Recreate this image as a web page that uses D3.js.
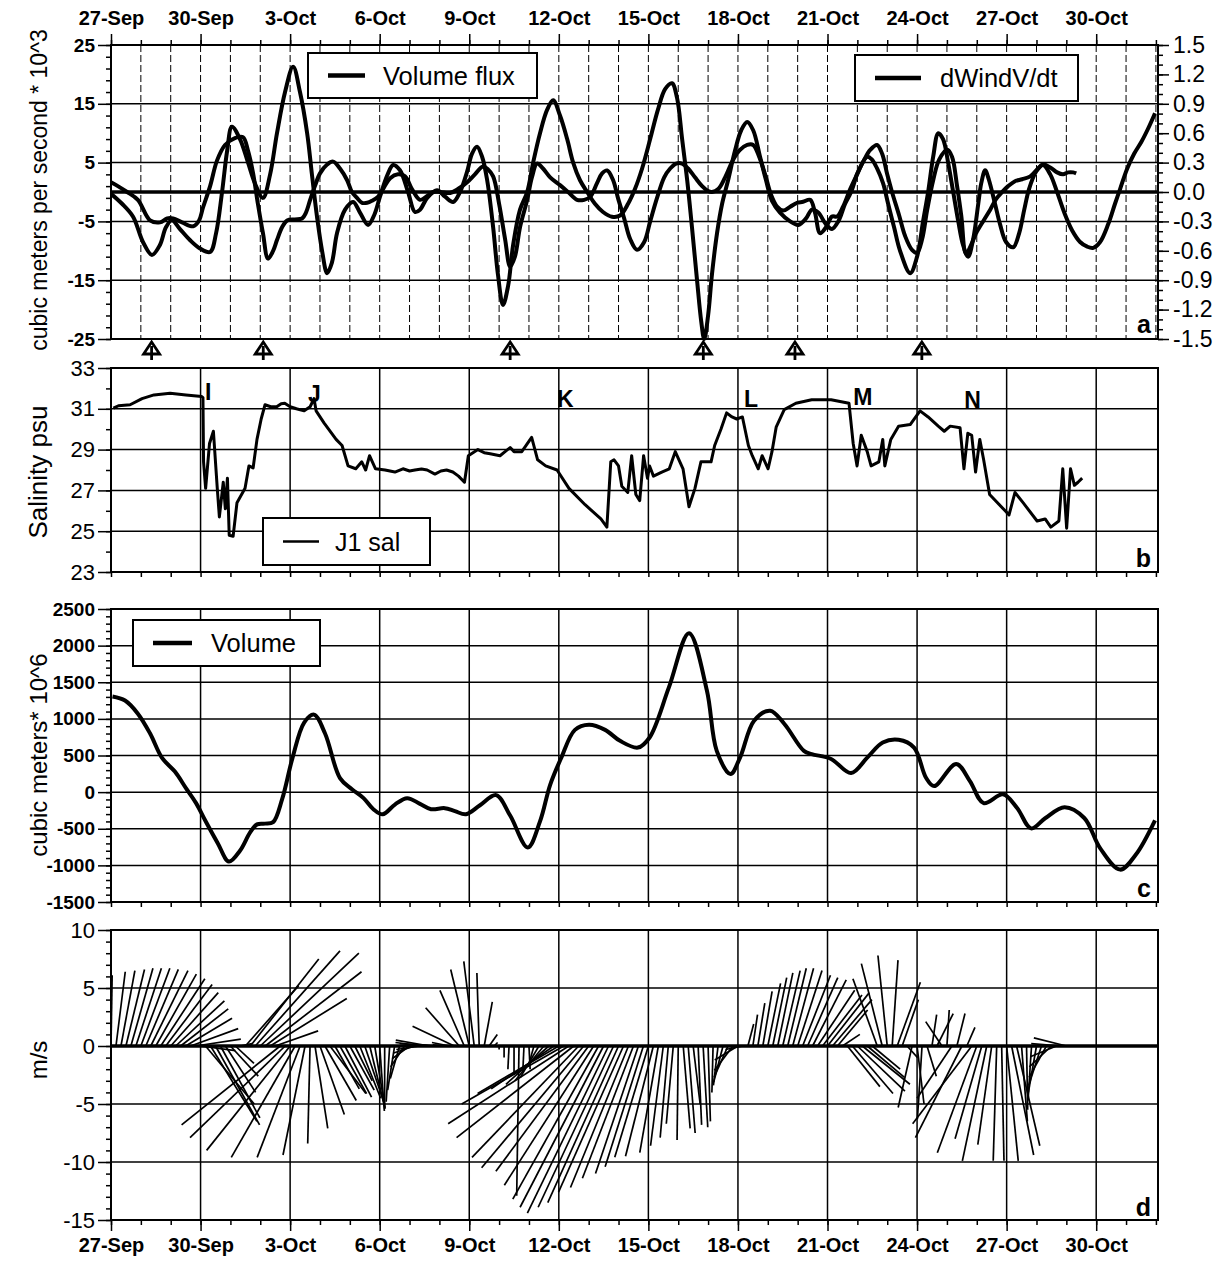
<!DOCTYPE html>
<html><head><meta charset="utf-8">
<script src="https://cdn.jsdelivr.net/npm/d3@7"></script>
<style>body{margin:0;background:#fff}svg{display:block}</style>
</head><body>
<svg id="chart" width="1232" height="1261"></svg>
<script>
// ---------------- DATA ----------------
const tickLabels = ["27-Sep","30-Sep","3-Oct","6-Oct","9-Oct","12-Oct","15-Oct","18-Oct","21-Oct","24-Oct","27-Oct","30-Oct"];
// days since 27-Sep 00:00
const volumeFlux = [[0,-0.3],[0.37,-2.0],[0.74,-4.2],[1.07,-8.5],[1.37,-10.7],[1.64,-9.0],[1.84,-6.0],[2.04,-4.8],[2.31,-6.3],[2.65,-8.2],[2.98,-9.6],[3.32,-10.2],[3.52,-7.0],[3.72,0],[3.89,7],[4.05,11.1],[4.32,9.0],[4.59,5],[4.82,1.5],[5.09,-1.0],[5.33,3],[5.56,10],[5.83,17],[6.10,21.3],[6.33,17],[6.57,10],[6.73,3],[6.90,-4.2],[7.07,-10],[7.24,-13.8],[7.40,-12],[7.57,-7],[7.84,-3],[8.11,-1.7],[8.34,-3.5],[8.61,-5.6],[8.81,-4],[9.01,-0.8],[9.25,2.8],[9.45,4.6],[9.68,3.7],[9.95,0],[10.18,-3.4],[10.35,-3.0],[10.59,-1.0],[10.92,0.3],[11.19,-0.8],[11.46,-1.7],[11.69,0],[11.93,3.5],[12.09,6.5],[12.26,7.7],[12.43,6],[12.60,2],[12.80,-6],[12.96,-14],[13.13,-19.2],[13.30,-16],[13.47,-9],[13.70,-3],[13.94,0],[14.14,5],[14.37,10],[14.61,14],[14.81,15.6],[15.04,13],[15.28,9],[15.48,5],[15.71,2],[15.95,0],[16.21,-2],[16.48,-3.4],[16.78,-4.2],[17.05,-4.0],[17.32,-2.0],[17.55,0.5],[17.79,4],[18.06,9],[18.32,14],[18.56,17.5],[18.79,18.5],[18.96,16],[19.13,9],[19.30,2],[19.46,-6],[19.63,-15],[19.77,-22],[19.87,-25],[20.00,-21],[20.13,-14],[20.30,-7],[20.47,-2],[20.67,2],[20.90,7],[21.11,10.5],[21.31,11.9],[21.51,10.5],[21.74,6],[21.94,2],[22.14,-1.5],[22.41,-3.5],[22.75,-5],[23.02,-5.6],[23.28,-4.5],[23.48,-3.0],[23.69,-3.5],[23.95,-5.5],[24.15,-6.3],[24.36,-5],[24.59,-2],[24.79,0],[25.03,3.5],[25.33,6.0],[25.49,5.5],[25.66,4],[25.86,1.5],[26.03,-2],[26.23,-6],[26.43,-10],[26.77,-13.8],[27.00,-11],[27.20,-5],[27.37,0],[27.54,6],[27.71,10],[27.87,9],[28.04,5],[28.21,0],[28.38,-5],[28.54,-9],[28.71,-11],[28.88,-8],[29.05,-2],[29.15,1.5],[29.28,3.7],[29.41,2],[29.61,-2],[29.78,-5.5],[29.98,-8.5],[30.22,-9.4],[30.42,-7],[30.59,-3],[30.75,0.5],[30.99,3.5],[31.22,4.6],[31.46,3],[31.69,0],[31.93,-3.5],[32.19,-6.5],[32.46,-8.5],[32.70,-9.3],[32.90,-9.5],[33.13,-8.5],[33.40,-5.5],[33.63,-2.0],[33.80,0.5],[34.04,4],[34.27,6.5],[34.51,8.5],[34.74,10.8],[34.97,13.4]];
const dWindVdt = [[0,0.10],[0.23,0.06],[0.54,0.00],[0.90,-0.08],[1.31,-0.29],[1.64,-0.31],[1.88,-0.27],[2.08,-0.27],[2.38,-0.31],[2.75,-0.35],[2.95,-0.29],[3.08,-0.16],[3.32,0.06],[3.55,0.32],[3.82,0.48],[4.15,0.55],[4.42,0.56],[4.59,0.42],[4.76,0.19],[4.92,-0.12],[5.09,-0.42],[5.26,-0.68],[5.43,-0.60],[5.56,-0.49],[5.73,-0.36],[5.90,-0.29],[6.16,-0.28],[6.40,-0.27],[6.53,-0.21],[6.67,-0.08],[6.83,0.06],[7.00,0.19],[7.24,0.28],[7.44,0.31],[7.67,0.24],[7.91,0.12],[8.07,0.00],[8.24,-0.06],[8.41,-0.11],[8.58,-0.11],[8.74,-0.09],[8.94,-0.05],[9.15,0.05],[9.35,0.14],[9.61,0.18],[9.85,0.16],[10.08,0.03],[10.35,-0.08],[10.59,-0.04],[10.79,0.00],[11.02,0.00],[11.36,-0.01],[11.62,0.03],[11.93,0.10],[12.19,0.18],[12.46,0.26],[12.63,0.23],[12.80,0.16],[13.00,-0.12],[13.20,-0.48],[13.37,-0.76],[13.53,-0.66],[13.70,-0.36],[13.94,-0.08],[14.10,0.15],[14.27,0.29],[14.47,0.24],[14.71,0.15],[15.04,0.07],[15.31,0.00],[15.61,-0.08],[15.85,-0.08],[16.05,-0.05],[16.28,0.09],[16.45,0.19],[16.62,0.22],[16.82,0.12],[16.98,-0.06],[17.19,-0.27],[17.39,-0.48],[17.62,-0.59],[17.86,-0.51],[18.06,-0.30],[18.29,-0.06],[18.53,0.15],[18.73,0.24],[18.93,0.29],[19.13,0.29],[19.33,0.24],[19.56,0.15],[19.80,0.06],[20.00,0.01],[20.13,0.00],[20.34,0.03],[20.57,0.15],[20.84,0.33],[21.07,0.43],[21.31,0.48],[21.51,0.48],[21.71,0.36],[21.91,0.18],[22.11,-0.03],[22.31,-0.15],[22.51,-0.19],[22.75,-0.15],[22.98,-0.11],[23.18,-0.10],[23.42,-0.08],[23.58,-0.21],[23.75,-0.42],[23.95,-0.36],[24.15,-0.25],[24.32,-0.25],[24.52,-0.15],[24.76,0.03],[24.99,0.18],[25.23,0.33],[25.43,0.43],[25.66,0.48],[25.83,0.39],[26.00,0.18],[26.16,0.00],[26.40,-0.24],[26.60,-0.45],[26.83,-0.59],[27.00,-0.62],[27.17,-0.48],[27.34,-0.18],[27.54,0.12],[27.74,0.33],[28.01,0.43],[28.17,0.36],[28.34,0.06],[28.48,-0.24],[28.64,-0.63],[28.81,-0.54],[28.98,-0.42],[29.21,-0.30],[29.45,-0.18],[29.65,-0.07],[29.85,0.00],[30.05,0.06],[30.28,0.11],[30.52,0.13],[30.79,0.16],[31.02,0.23],[31.22,0.28],[31.46,0.25],[31.69,0.20],[31.89,0.18],[32.06,0.20],[32.23,0.20],[32.33,0.19]];
const eventDays = [1.36, 5.10, 13.37, 19.84, 22.91, 27.16];
const salinityJ1 = [[0.08,31.03],[0.25,31.15],[0.64,31.2],[1.04,31.5],[1.44,31.68],[1.98,31.76],[2.51,31.68],[3.04,31.6],[3.08,31.55],[3.10,28.4],[3.17,27.1],[3.30,29.3],[3.43,29.9],[3.56,27.1],[3.63,25.7],[3.76,27.4],[3.83,26.1],[3.90,27.6],[3.96,24.8],[4.09,24.75],[4.22,26.4],[4.49,27.1],[4.62,28.2],[4.76,28.1],[4.89,29.5],[5.03,30.5],[5.16,31.2],[5.35,31.1],[5.55,31.1],[5.70,31.25],[5.82,31.27],[6.0,31.1],[6.21,31.0],[6.47,30.9],[6.67,31.1],[6.80,31.5],[6.87,30.9],[7.14,30.3],[7.54,29.5],[7.74,29.2],[7.94,28.2],[8.20,28.06],[8.40,28.4],[8.53,28.0],[8.66,28.7],[8.86,28.06],[9.18,28.0],[9.51,27.9],[9.78,28.06],[10.0,27.95],[10.18,28.0],[10.4,28.05],[10.59,28.0],[10.85,27.8],[11.05,27.95],[11.24,28.0],[11.45,27.9],[11.64,27.7],[11.84,27.4],[11.97,28.7],[12.29,29.0],[12.50,28.85],[12.70,28.8],[13.03,28.7],[13.2,28.9],[13.37,29.1],[13.5,28.9],[13.76,28.9],[14.09,29.6],[14.29,28.5],[14.56,28.2],[14.94,28.0],[15.34,27.1],[15.88,26.3],[16.41,25.6],[16.61,25.2],[16.74,28.4],[16.85,28.5],[17.00,28.2],[17.11,27.2],[17.31,26.9],[17.44,28.7],[17.58,26.8],[17.71,26.5],[17.84,28.7],[17.97,27.6],[18.04,28.2],[18.17,27.7],[18.45,27.9],[18.70,28.06],[18.90,28.9],[19.16,28.06],[19.36,26.2],[19.56,27.1],[19.76,28.4],[20.10,28.4],[20.22,29.2],[20.43,30.0],[20.62,30.8],[20.80,30.6],[20.96,30.5],[21.15,30.6],[21.35,29.2],[21.48,28.7],[21.68,28.06],[21.81,28.7],[22.01,28.06],[22.14,28.9],[22.28,30.1],[22.55,30.96],[22.94,31.27],[23.47,31.44],[24.12,31.44],[24.72,31.27],[24.86,29.3],[24.99,28.2],[25.13,29.7],[25.33,28.9],[25.46,28.2],[25.72,28.4],[25.85,29.5],[25.92,28.2],[26.12,29.5],[26.38,30.15],[26.77,30.23],[27.10,30.9],[27.37,30.6],[27.71,30.15],[27.91,29.9],[28.11,30.15],[28.44,30.07],[28.57,28.06],[28.70,29.8],[28.83,29.7],[28.96,27.9],[29.10,29.5],[29.23,28.5],[29.43,26.8],[29.95,26.0],[30.08,25.8],[30.28,26.9],[30.55,26.4],[31.02,25.5],[31.29,25.6],[31.48,25.2],[31.75,25.5],[31.88,28.06],[32.01,25.15],[32.14,28.06],[32.27,27.25],[32.39,27.4],[32.53,27.6]];
const eventLetters = [["I",3.15,31.43],["J",6.60,31.33],["K",14.94,31.09],["L",21.20,31.09],["M",24.86,31.19],["N",28.58,31.04]];
const volume = [[0.05,1305],[0.47,1250],[0.90,1071],[1.31,800],[1.71,467],[2.14,280],[2.51,55],[2.85,-150],[3.17,-398],[3.58,-700],[3.95,-948],[4.32,-800],[4.66,-550],[4.89,-440],[5.16,-430],[5.43,-410],[5.73,-100],[6.08,467],[6.47,950],[6.80,1058],[7.17,800],[7.67,192],[8.07,40],[8.46,-82],[8.78,-230],[9.10,-302],[9.51,-170],[9.92,-82],[10.35,-160],[10.72,-233],[11.18,-219],[11.52,-260],[11.89,-302],[12.36,-180],[12.90,-41],[13.37,-320],[13.96,-755],[14.37,-400],[14.71,100],[15.08,467],[15.54,850],[16.01,920],[16.55,850],[17.05,700],[17.65,608],[18.04,746],[18.69,1433],[19.36,2170],[19.96,1387],[20.29,563],[20.75,247],[21.07,471],[21.54,975],[22.08,1112],[22.55,934],[23.21,563],[23.47,520],[24.12,453],[24.79,260],[25.33,471],[25.85,677],[26.38,714],[26.90,608],[27.30,196],[27.57,82],[28.31,385],[28.77,151],[29.23,-150],[29.88,-30],[30.35,-216],[30.82,-495],[31.29,-357],[31.94,-206],[32.60,-353],[33.13,-765],[33.80,-1058],[34.33,-852],[34.97,-385]];
// wind sticks: 4-hourly from 27-Sep 00:00 (m/s)
const windStartDay = 0, windStepDay = 1/6;
const windU = [0.1,0.8,1.2,1.6,1.9,2.2,2.5,2.8,3.2,3.5,3.8,4.0,4.1,4.2,4.1,4.0,4.1,3.9,3.0,4.2,4.0,3.8,3.4,2.6,2.4,1.6,1.0,4.6,5.9,7.3,8.5,8.3,6.6,3.7,-8.5,-8.2,-7.2,-5.5,-3.7,-1.9,-0.2,1.1,2.1,2.7,3.1,2.1,2.3,2.3,2.1,1.5,1.8,1.7,1.3,0.9,0.4,0.0,-0.3,-0.6,-0.8,-1.2,-1.5,-1.8,-2.0,-2.5,-2.9,-3.0,-2.0,-1.0,-1.5,-3.6,-2.9,-2.1,-1.6,-0.9,-0.2,0.7,0.7,0.3,0.0,0.0,-0.1,0.0,-0.2,-0.1,0.1,-0.5,-1.6,-2.5,-3.7,-5.4,-7.0,-8.8,-10.4,-10.1,-9.2,-8.8,-8.0,-7.7,-7.4,-7.2,-7.0,-6.5,-6.1,-5.6,-5.0,-4.4,-3.7,-3.3,-2.9,-2.4,-1.6,-1.1,-0.7,-0.6,-0.1,0.6,0.6,0.6,0.3,0.4,0.2,-0.1,-0.4,-0.8,-1.2,-1.6,-2.0,-1.5,0.5,0.4,0.6,0.8,1.1,1.2,1.3,1.5,1.6,1.8,2.1,2.4,2.6,2.9,3.2,3.4,3.6,3.4,2.6,1.5,2.8,3.5,4.1,4.1,3.2,2.4,-2.1,-1.8,-0.8,0.5,2.0,1.4,0.9,-1.2,0.6,-0.4,0.8,0.4,1.4,-1.4,0.2,-3.0,0.7,-4.0,0.7,-5.1,-3.4,-2.3,-2.1,-1.2,-0.3,0.2,1.0,1.9,2.0,0.5,0.1,-0.3,-0.7,-1.1,-1.5,-1.9,-2.2,-2.6,-2.8];
const windV = [6.1,6.4,6.5,6.6,6.7,6.7,6.7,6.6,6.5,6.2,5.8,5.3,4.6,3.9,3.2,2.4,1.5,0.6,-0.4,-5.0,-6.5,-6.8,-6.2,-4.0,-2.6,-1.5,0.2,5.2,7.5,8.2,8.0,6.4,4.1,1.3,-6.8,-7.9,-9.0,-9.6,-9.6,-9.4,-8.4,-7.1,-5.9,-4.7,-4.1,-3.7,-4.1,-4.4,-3.8,-3.0,-4.5,-5.0,-5.3,-5.4,-5.6,-5.4,-4.8,-3.8,-2.8,-1.8,-1.1,-0.6,-0.3,0.3,0.5,0.2,0.1,0.1,0.3,1.7,3.3,4.8,6.6,7.3,6.3,3.8,1.0,0.3,-0.3,-1.0,-2.0,-2.5,-12.9,-2.2,-2.0,-1.8,-2.7,-3.0,-3.3,-3.7,-4.1,-5.0,-6.7,-7.9,-9.6,-10.5,-10.8,-12.0,-13.2,-13.9,-14.4,-13.9,-13.5,-12.6,-12.2,-11.4,-11.0,-10.4,-9.6,-9.5,-9.2,-8.6,-7.9,-6.7,-8.1,-7.1,-7.5,-5.0,-6.8,-7.0,-6.5,-4.0,-3.4,-3.1,-2.7,-2.1,-1.2,-0.3,1.9,2.7,3.7,4.7,5.4,5.9,6.3,6.5,6.7,6.7,6.5,6.1,5.9,5.7,4.8,4.4,4.6,4.0,3.1,1.0,-3.5,-4.1,-3.9,-3.3,-2.7,-2.0,5.8,7.1,7.8,7.4,5.5,4.0,-1.0,-5.3,-5.0,-6.3,-2.6,2.7,2.8,2.1,3.1,-4.5,2.8,-7.9,1.6,-6.7,-9.2,-8.0,-9.9,-8.5,-9.9,-9.9,-9.9,-9.4,-8.6,-6.5,-5.5,-4.7,-4.0,-3.4,-2.7,-1.8,-0.9,0.2,0.7];

// ---------------- DRAWING ----------------
const FONT = '"Liberation Sans", Arial, Helvetica, sans-serif';
const svg = d3.select("#chart");
const DAY = 864e5, T0 = Date.UTC(1998, 8, 27);
const toDate = d => new Date(T0 + d * DAY);
const X0 = 111, X1 = 1158;
const x = d3.scaleUtc().domain([toDate(0), toDate(35.07)]).range([X0, X1]);
const majorDates = tickLabels.map((_, i) => toDate(i * 3));
const dailyDates = d3.range(0, 36).map(toDate);

const P = {a:[45,339], b:[368,572], c:[609,902], d:[930,1220]};
const yA = d3.scaleLinear().domain([-25,25]).range([P.a[1],P.a[0]]);
const yAR = d3.scaleLinear().domain([-1.5,1.5]).range([P.a[1],P.a[0]]);
const yB = d3.scaleLinear().domain([23,33]).range([P.b[1],P.b[0]]);
const yC = d3.scaleLinear().domain([-1500,2500]).range([P.c[1],P.c[0]]);
const yD = d3.scaleLinear().domain([-15,10]).range([P.d[1],P.d[0]]);

function styleAxis(g, size, weight) {
  g.attr("font-family", null).attr("font-size", null);
  g.select(".domain").remove();
  g.selectAll(".tick line").attr("stroke", "#000").attr("stroke-width", 1.5);
  g.selectAll(".tick text").attr("fill", "#000")
    .style("font-family", FONT).style("font-size", size + "px").style("font-weight", weight);
  return g;
}
function hline(y, w) {
  svg.append("line").attr("x1", X0).attr("x2", X1).attr("y1", y).attr("y2", y)
    .attr("stroke", "#000").attr("stroke-width", w);
}
function vgrid(dates, top, bot, w, dash) {
  svg.append("g").selectAll("line").data(dates).join("line")
    .attr("x1", d => x(d)).attr("x2", d => x(d)).attr("y1", top).attr("y2", bot)
    .attr("stroke", "#000").attr("stroke-width", w).attr("stroke-dasharray", dash || null);
}
function frame(top, bot) {
  svg.append("rect").attr("x", X0).attr("y", top).attr("width", X1 - X0).attr("height", bot - top)
    .attr("fill", "none").attr("stroke", "#000").attr("stroke-width", 2);
}
function clip(id, top, bot) {
  svg.append("clipPath").attr("id", id).append("rect")
    .attr("x", X0).attr("y", top - 2).attr("width", X1 - X0).attr("height", bot - top + 4);
}
function leftAxis(scale, major, minor, size, weight) {
  styleAxis(svg.append("g").attr("transform", `translate(${X0},0)`)
    .call(d3.axisLeft(scale).tickValues(minor).tickSize(5).tickFormat("")), size, weight);
  styleAxis(svg.append("g").attr("transform", `translate(${X0},0)`)
    .call(d3.axisLeft(scale).tickValues(major).tickSize(13).tickPadding(3).tickFormat(d => String(d))), size, weight);
}
function yTitle(txt, cy, size) {
  svg.append("text").attr("transform", `translate(47,${cy}) rotate(-90)`)
    .attr("text-anchor", "middle").style("font-family", FONT).style("font-size", size + "px").text(txt);
}
function panelLetter(t, yb) {
  svg.append("text").attr("x", 1151).attr("y", yb).attr("text-anchor", "end")
    .style("font-family", FONT).style("font-size", "25px").style("font-weight", "bold").text(t);
}
function legend(x0, y0, w, h, label, lw, lineLen, textOff, size) {
  const g = svg.append("g");
  g.append("rect").attr("x", x0).attr("y", y0).attr("width", w).attr("height", h)
    .attr("fill", "#fff").attr("stroke", "#000").attr("stroke-width", 2);
  g.append("line").attr("x1", x0 + 20).attr("x2", x0 + 20 + lineLen).attr("y1", y0 + h / 2).attr("y2", y0 + h / 2)
    .attr("stroke", "#000").attr("stroke-width", lw);
  g.append("text").attr("x", x0 + textOff).attr("y", y0 + h / 2 + size * 0.36)
    .style("font-family", FONT).style("font-size", size + "px").text(label);
}
const smooth = (ys) => d3.line().x(d => x(toDate(d[0]))).y(d => ys(d[1])).curve(d3.curveCatmullRom.alpha(0.5));

// ===== Panel a =====
vgrid(dailyDates.slice(1), P.a[0], P.a[1], 1, "7,3");
[15, 5, -5, -15].forEach(v => hline(yA(v), 1.5));
hline(yA(0), 3.5);
frame(P.a[0], P.a[1]);
clip("clipA", P.a[0], P.a[1]);
svg.append("path").datum(volumeFlux).attr("clip-path", "url(#clipA)").attr("d", smooth(yA))
  .attr("fill", "none").attr("stroke", "#000").attr("stroke-width", 4).attr("stroke-linejoin", "round");
svg.append("path").datum(dWindVdt).attr("clip-path", "url(#clipA)").attr("d", smooth(yAR))
  .attr("fill", "none").attr("stroke", "#000").attr("stroke-width", 4).attr("stroke-linejoin", "round");
leftAxis(yA, [25,15,5,-5,-15,-25], d3.range(-25, 26, 2), 19, "bold");
styleAxis(svg.append("g").attr("transform", `translate(${X1},0)`)
  .call(d3.axisRight(yAR).tickValues(d3.range(-15, 16).map(k => k / 10)).tickSize(5).tickFormat("")), 22, "normal");
styleAxis(svg.append("g").attr("transform", `translate(${X1},0)`)
  .call(d3.axisRight(yAR).tickValues(d3.range(-5, 6).map(k => k * 0.3)).tickSize(11).tickPadding(4)
  .tickFormat(d => (Math.abs(d) < 1e-9 ? 0 : d).toFixed(1))), 23, "normal");
styleAxis(svg.append("g").attr("transform", `translate(0,${P.a[0]})`)
  .call(d3.axisTop(x).tickValues(dailyDates).tickSize(5).tickFormat("")), 20, "bold");
styleAxis(svg.append("g").attr("transform", `translate(0,${P.a[0]})`)
  .call(d3.axisTop(x).tickValues(majorDates).tickSize(11).tickPadding(9).tickFormat((d, i) => tickLabels[i])), 20, "bold");
// event arrows
const ev = svg.append("g");
eventDays.forEach(d => {
  const cx = x(toDate(d));
  ev.append("path").attr("d", `M${cx},342 L${cx - 8},354 L${cx + 8},354 Z`)
    .attr("fill", "#fff").attr("stroke", "#000").attr("stroke-width", 2.8).attr("stroke-linejoin", "miter");
  ev.append("line").attr("x1", cx).attr("x2", cx).attr("y1", 346).attr("y2", 360)
    .attr("stroke", "#000").attr("stroke-width", 2.8);
});
legend(308, 53, 229, 45, "Volume flux", 4.5, 37, 75, 25.5);
legend(855, 55, 223, 46, "dWindV/dt", 4.5, 46, 85, 25.5);
yTitle("cubic meters per second * 10^3", 190, 23);
panelLetter("a", 333);

// ===== Panel b =====
vgrid(majorDates.slice(1), P.b[0], P.b[1], 1.5);
[31, 29, 27, 25].forEach(v => hline(yB(v), 1.5));
frame(P.b[0], P.b[1]);
styleAxis(svg.append("g").attr("transform", `translate(0,${P.b[1]})`)
  .call(d3.axisBottom(x).tickValues(dailyDates).tickSize(5).tickFormat("")), 20, "bold");
svg.append("path").datum(salinityJ1)
  .attr("d", d3.line().x(d => x(toDate(d[0]))).y(d => yB(d[1])))
  .attr("fill", "none").attr("stroke", "#000").attr("stroke-width", 3).attr("stroke-linejoin", "round");
leftAxis(yB, [33,31,29,27,25,23], d3.range(23, 34, 1), 22, "normal");
svg.append("g").selectAll("text").data(eventLetters).join("text")
  .attr("x", d => x(toDate(d[1]))).attr("y", d => yB(d[2]))
  .style("font-family", FONT).style("font-size", "23px").style("font-weight", "bold").text(d => d[0]);
legend(263, 518, 167, 47, "J1 sal", 2.5, 36, 72, 25);
yTitle("Salinity psu", 472, 26);
panelLetter("b", 567);

// ===== Panel c =====
vgrid(majorDates.slice(1), P.c[0], P.c[1], 1.5);
[2000, 1500, 1000, 500, 0, -500, -1000].forEach(v => hline(yC(v), 1.5));
frame(P.c[0], P.c[1]);
styleAxis(svg.append("g").attr("transform", `translate(0,${P.c[1]})`)
  .call(d3.axisBottom(x).tickValues(dailyDates).tickSize(5).tickFormat("")), 20, "bold");
clip("clipC", P.c[0], P.c[1]);
svg.append("path").datum(volume).attr("clip-path", "url(#clipC)").attr("d", smooth(yC))
  .attr("fill", "none").attr("stroke", "#000").attr("stroke-width", 4).attr("stroke-linejoin", "round");
leftAxis(yC, d3.range(-1500, 2501, 500), d3.range(-1500, 2501, 100), 19, "bold");
legend(133, 620, 187, 46, "Volume", 4.5, 39, 78, 25.5);
yTitle("cubic meters* 10^6", 755, 24);
panelLetter("c", 897);

// ===== Panel d =====
vgrid(majorDates.slice(1), P.d[0], P.d[1], 1.5);
[5, -5, -10].forEach(v => hline(yD(v), 1.5));
frame(P.d[0], P.d[1]);
const kD = yD(0) - yD(1);
clip("clipD", P.d[0], P.d[1]);
svg.append("g").attr("clip-path", "url(#clipD)").selectAll("line").data(windU).join("line")
  .attr("x1", (u, i) => x(toDate(windStartDay + i * windStepDay)))
  .attr("y1", yD(0))
  .attr("x2", (u, i) => x(toDate(windStartDay + i * windStepDay)) + u * kD)
  .attr("y2", (u, i) => yD(windV[i]))
  .attr("stroke", "#000").attr("stroke-width", 1.7);
hline(yD(0), 3.5);
leftAxis(yD, [10,5,0,-5,-10,-15], d3.range(-15, 11, 1), 22, "normal");
styleAxis(svg.append("g").attr("transform", `translate(0,${P.d[1]})`)
  .call(d3.axisBottom(x).tickValues(dailyDates).tickSize(5).tickFormat("")), 20, "bold");
styleAxis(svg.append("g").attr("transform", `translate(0,${P.d[1]})`)
  .call(d3.axisBottom(x).tickValues(majorDates).tickSize(11).tickPadding(7).tickFormat((d, i) => tickLabels[i])), 20, "bold");
yTitle("m/s", 1060, 24);
panelLetter("d", 1216);
</script>
</body></html>
